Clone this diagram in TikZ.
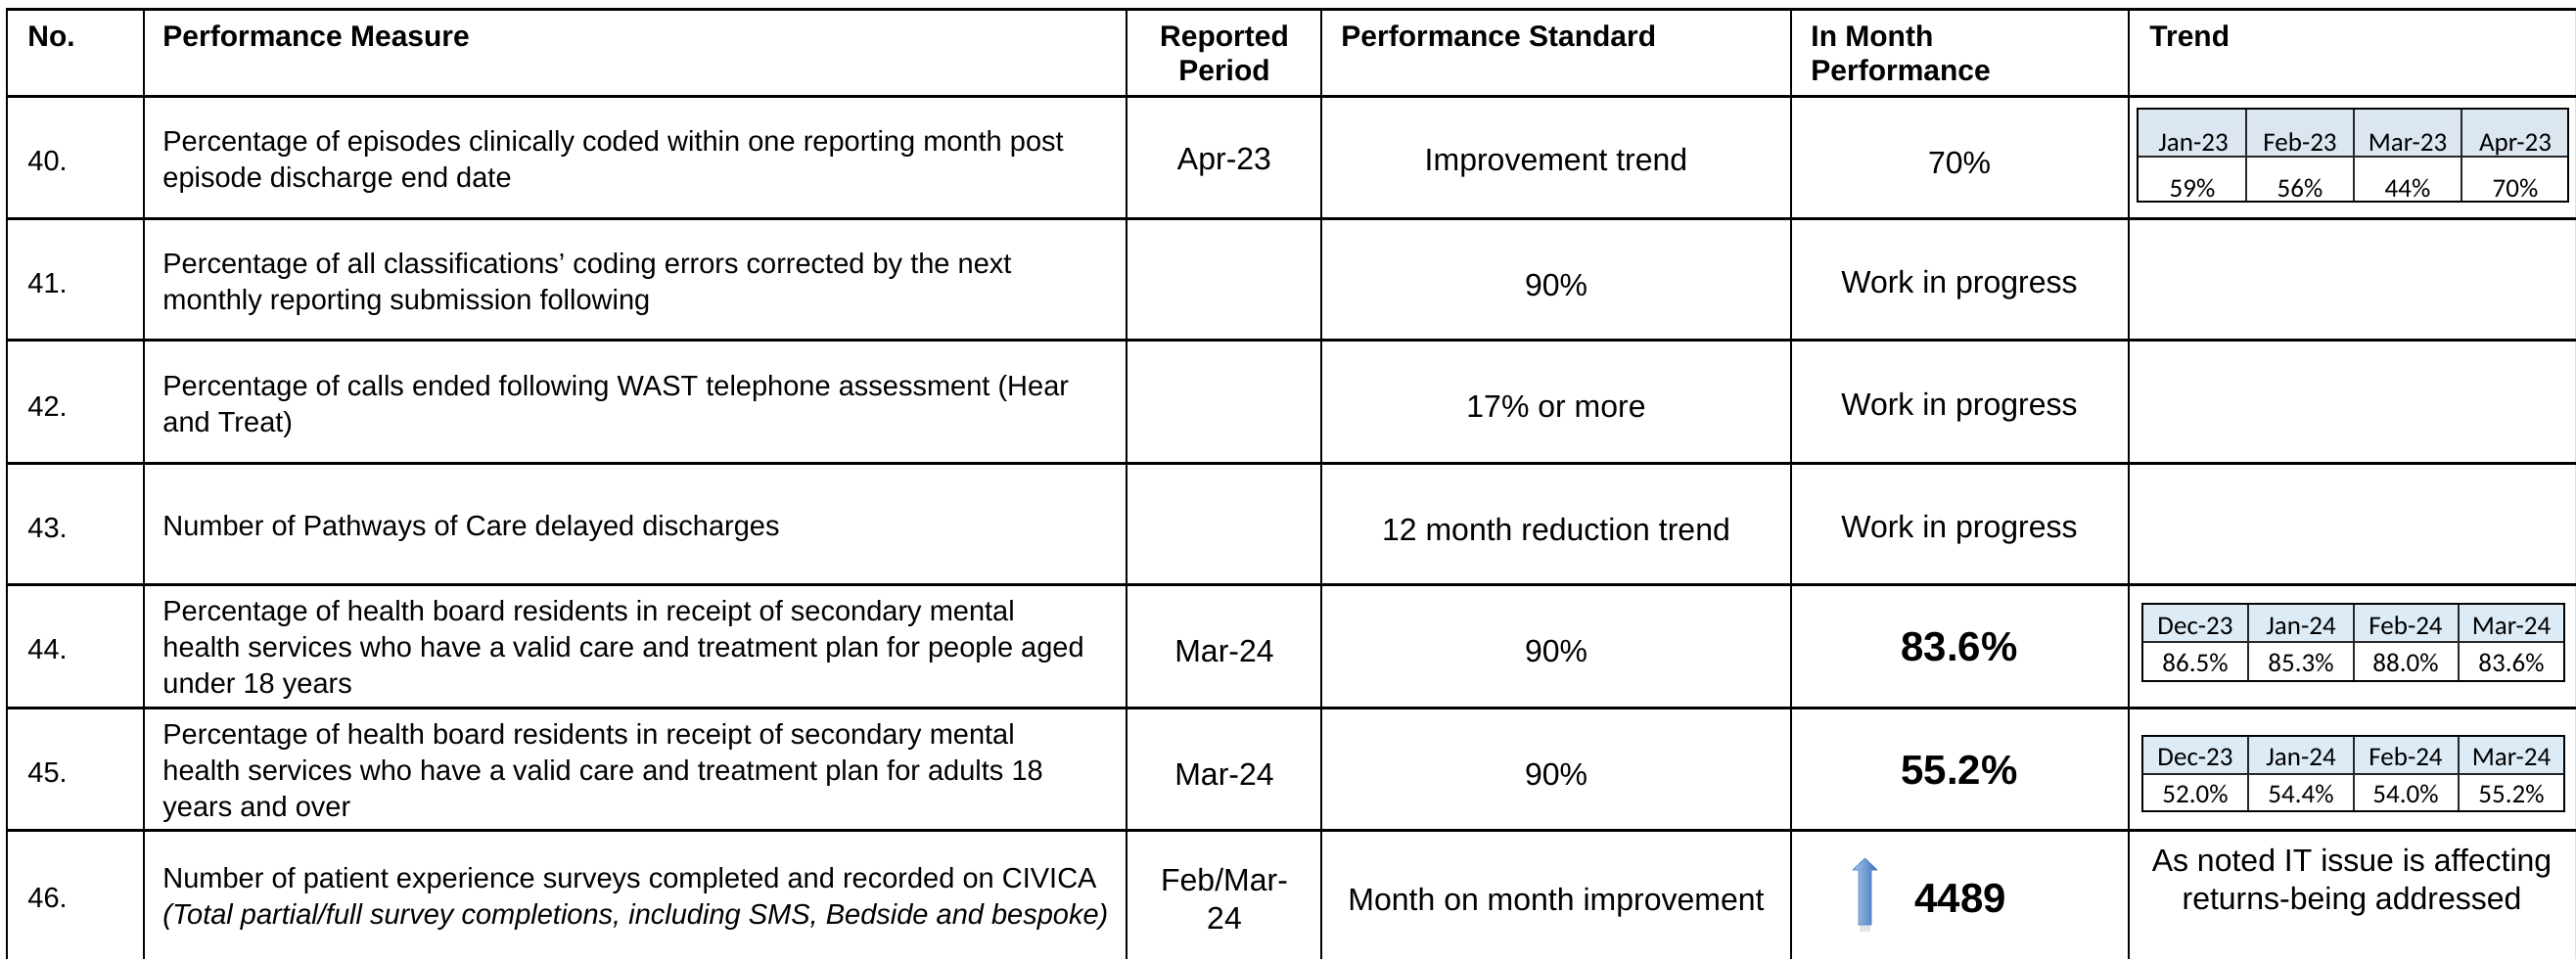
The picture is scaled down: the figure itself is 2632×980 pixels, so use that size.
\documentclass[tikz,border=0pt]{standalone}
\usepackage{fontspec}
\setmainfont{Liberation Sans}
\newfontfamily\calib{Carlito}
\definecolor{hdrA}{HTML}{DCE6F1}
\definecolor{hdrB}{HTML}{DDEBF7}
\definecolor{arrowL}{HTML}{A9C8EE}
\definecolor{arrowR}{HTML}{3A70B8}
\definecolor{arrowD}{HTML}{4A7DBE}
\begin{document}
\begin{tikzpicture}[x=0.5pt,y=-0.5pt,
  hline/.style={line width=1.5pt, draw=black},
  vline/.style={line width=1.2pt, draw=black},
  hdr/.style={font=\bfseries\fontsize{15}{17.5}\selectfont, inner sep=0pt, anchor=base west},
  body/.style={font=\fontsize{14.5}{18.5}\selectfont, inner sep=0pt, align=left, anchor=west, yshift=-1.5pt},
  ctr/.style={font=\fontsize{16}{19.5}\selectfont, inner sep=0pt, align=center, yshift=-2pt},
  big/.style={font=\bfseries\fontsize{21}{25}\selectfont, inner sep=0pt},
  mini/.style={font=\calib\fontsize{13.5}{16}\selectfont, inner sep=0pt, anchor=base},
  miniin/.style={line width=0.55pt, draw=black!85},
  miniout/.style={line width=0.9pt, draw=black},
]
\useasboundingbox (0,0) rectangle (2632,980);
\fill[white] (0,0) rectangle (2632,980);

% ---- table rules ----
\draw[line width=0.5pt, draw=black!12] (2631,9) -- (2631,980);
\foreach \yy in {9,98,223,347,473,597,723,848} \draw[hline] (7,\yy) -- (2632,\yy);
\foreach \xx in {7,147,1151,1350,1830,2175} \draw[vline] (\xx,8) -- (\xx,980);

% ---- header ----
\node[hdr] (hNo) at (28,47) {No.};
\node[hdr] (hPM) at (166,47) {Performance Measure};
\node[hdr, anchor=base] (hRP1) at (1251,47) {Reported};
\node[hdr, anchor=base] (hRP2) at (1251,82) {Period};
\node[hdr] (hPS) at (1370,47) {Performance Standard};
\node[hdr] (hIM1) at (1850,47) {In Month};
\node[hdr] (hIM2) at (1850,82) {Performance};
\node[hdr] (hTr) at (2196,47) {Trend};

% ---- row 40 ----
\node[body] (n40) at (28,162) {40.};
\node[body] (m40) at (166,162) {Percentage of episodes clinically coded within one reporting month post\\episode discharge end date};
\node[ctr] (p40) at (1251,162) {Apr-23};
\node[ctr] (s40) at (1590,162) {Improvement trend};
\node[ctr] (v40) at (2002,162) {70\%};
\fill[hdrA] (2184,111) rectangle (2624,160);
\foreach \xx in {2295,2405,2515} \draw[miniin] (\xx,111) -- (\xx,206);
\draw[miniin] (2184,160) -- (2624,160);
\draw[miniout] (2184,111) rectangle (2624,206);
\node[mini] (t40a) at (2241,154) {Jan-23};
\node[mini] (t40b) at (2350,154) {Feb-23};
\node[mini] (t40c) at (2460,154) {Mar-23};
\node[mini] (t40d) at (2570,154) {Apr-23};
\node[mini] (u40a) at (2240,201) {59\%};
\node[mini] (u40b) at (2350,201) {56\%};
\node[mini] (u40c) at (2460,201) {44\%};
\node[mini] (u40d) at (2570,201) {70\%};

% ---- row 41 ----
\node[body] (n41) at (28,287) {41.};
\node[body] (m41) at (166,287) {Percentage of all classifications’ coding errors corrected by the next\\monthly reporting submission following};
\node[ctr] (s41) at (1590,287) {90\%};
\node[ctr] (v41) at (2002,287) {Work in progress};

% ---- row 42 ----
\node[body] (n42) at (28,412) {42.};
\node[body] (m42) at (166,412) {Percentage of calls ended following WAST telephone assessment (Hear\\and Treat)};
\node[ctr] (s42) at (1590,412) {17\% or more};
\node[ctr] (v42) at (2002,412) {Work in progress};

% ---- row 43 ----
\node[body] (n43) at (28,537) {43.};
\node[body] (m43) at (166,537) {Number of Pathways of Care delayed discharges};
\node[ctr] (s43) at (1590,537) {12 month reduction trend};
\node[ctr] (v43) at (2002,537) {Work in progress};

% ---- row 44 ----
\node[body] (n44) at (28,661) {44.};
\node[body] (m44) at (166,661) {Percentage of health board residents in receipt of secondary mental\\health services who have a valid care and treatment plan for people aged\\under 18 years};
\node[ctr] (p44) at (1251,661) {Mar-24};
\node[ctr] (s44) at (1590,661) {90\%};
\node[big] (v44) at (2002,661) {83.6\%};
\fill[hdrB] (2189,617) rectangle (2620,656);
\foreach \xx in {2297,2405,2512} \draw[miniin] (\xx,617) -- (\xx,696);
\draw[miniin] (2189,656) -- (2620,656);
\draw[miniout] (2189,617) rectangle (2620,696);
\node[mini] (t44a) at (2243,648) {Dec-23};
\node[mini] (t44b) at (2351,648) {Jan-24};
\node[mini] (t44c) at (2458,648) {Feb-24};
\node[mini] (t44d) at (2566,648) {Mar-24};
\node[mini] (u44a) at (2243,686) {86.5\%};
\node[mini] (u44b) at (2351,686) {85.3\%};
\node[mini] (u44c) at (2458,686) {88.0\%};
\node[mini] (u44d) at (2566,686) {83.6\%};

% ---- row 45 ----
\node[body] (n45) at (28,787) {45.};
\node[body] (m45) at (166,787) {Percentage of health board residents in receipt of secondary mental\\health services who have a valid care and treatment plan for adults 18\\years and over};
\node[ctr] (p45) at (1251,787) {Mar-24};
\node[ctr] (s45) at (1590,787) {90\%};
\node[big] (v45) at (2002,787) {55.2\%};
\fill[hdrB] (2189,752) rectangle (2620,791);
\foreach \xx in {2297,2405,2512} \draw[miniin] (\xx,752) -- (\xx,829);
\draw[miniin] (2189,791) -- (2620,791);
\draw[miniout] (2189,752) rectangle (2620,829);
\node[mini] (t45a) at (2243,782) {Dec-23};
\node[mini] (t45b) at (2351,782) {Jan-24};
\node[mini] (t45c) at (2458,782) {Feb-24};
\node[mini] (t45d) at (2566,782) {Mar-24};
\node[mini] (u45a) at (2243,820) {52.0\%};
\node[mini] (u45b) at (2351,820) {54.4\%};
\node[mini] (u45c) at (2458,820) {54.0\%};
\node[mini] (u45d) at (2566,820) {55.2\%};

% ---- row 46 ----
\node[body, yshift=1.5pt] (n46) at (28,918) {46.};
\node[body, yshift=1.5pt] (m46) at (166,918) {Number of patient experience surveys completed and recorded on CIVICA\\\textit{(Total partial/full survey completions, including SMS, Bedside and bespoke)}};
\node[ctr, yshift=2pt] (p46) at (1251,918) {Feb/Mar-\\24};
\node[ctr] (s46) at (1590,918) {Month on month improvement};
\fill[black!10] (1900,945) rectangle (1911,952);
\shade[left color=arrowL, right color=arrowR, draw=arrowD, line width=0.3pt]
  (1899,945) -- (1899,889) -- (1893,889) -- (1905.5,877) -- (1918,889) -- (1912,889) -- (1912,945) -- cycle;
\node[big, anchor=base] (v46) at (2003,932) {4489};
\node[ctr] (r46) at (2403,898) {As noted IT issue is affecting\\returns-being addressed};
\end{tikzpicture}
\end{document}
